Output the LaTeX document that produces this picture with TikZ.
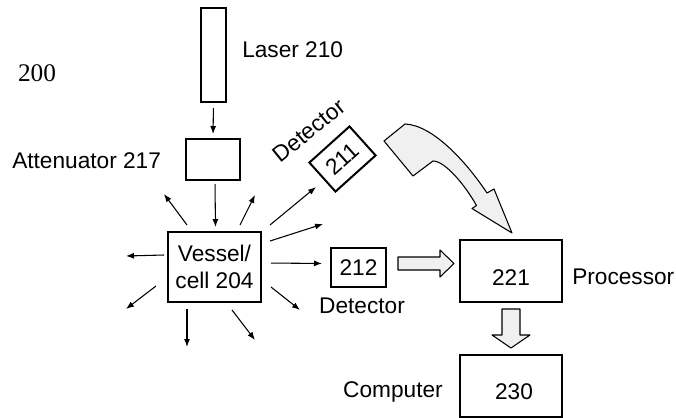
\documentclass[tikz,border=0pt]{standalone}
\usepackage{fontspec}
\setmainfont{Liberation Sans}
\newfontfamily\serifnum{Liberation Serif}
\usetikzlibrary{arrows.meta}
\tikzset{
  box/.style={draw, line width=1.5pt, inner sep=0pt, font=\fontsize{17}{20}\selectfont},
  lbl/.style={inner sep=0pt, font=\fontsize{17}{20}\selectfont},
  arr/.style={line width=0.8pt, -{Latex[length=6pt,width=4.5pt]}},
  blockarrow/.style={draw, line width=0.8pt, line join=round, fill=black!6}
}
\begin{document}
\begin{tikzpicture}[x=0.75pt,y=-0.75pt]
\useasboundingbox (0,0) rectangle (676,418);
% label 200
\node[inner sep=0pt, font=\serifnum\fontsize{19}{20}\selectfont] (fig) at (37,73) {200};
% boxes
\node[box, minimum width=18.75pt, minimum height=70.5pt] (laser) at (213.5,55) {};
\node[lbl, anchor=west] (laserl) at (242,50) {Laser 210};
\node[box, minimum width=40.5pt, minimum height=30.75pt] (att) at (213,159.5) {};
\node[lbl, anchor=west] (attl) at (12,161) {Attenuator 217};
\node[box, minimum width=69.75pt, minimum height=52.5pt, align=center] (vessel) at (214.5,267) {Vessel/\\cell 204};
\node[box, minimum width=41.25pt, minimum height=29.25pt] (det212) at (358.5,267.5) {212};
\node[lbl] (det212l) at (362,306) {Detector};
\node[box, minimum width=40.5pt, minimum height=29.25pt, rotate=42] (det211) at (342.5,159) {211};
\node[lbl, rotate=39] (det211l) at (309,131) {Detector};
\node[box, minimum width=76.5pt, minimum height=46.5pt] (proc) at (511,271) {};
\node[lbl] (proct) at (511,278) {221};
\node[lbl, anchor=west] (procl) at (572,277) {Processor};
\node[box, minimum width=76.5pt, minimum height=46.5pt] (comp) at (511,386) {};
\node[lbl] (compt) at (514,392) {230};
\node[lbl, anchor=east] (compl) at (443,392) {Computer};
% connectors
\draw[arr, shorten <=3.75pt, shorten >=3pt] (laser.south) -- (att.north);
\draw[arr, shorten <=2.25pt, shorten >=3pt] ([xshift=1.5pt]att.south) -- ([xshift=0.75pt]vessel.north);
\draw[arr, shorten <=6.75pt, shorten >=6pt] ([yshift=3pt]vessel.east) -- ([yshift=3pt]det212.west);
% radiating arrows
\foreach \i/\sx/\sy/\ex/\ey in {1/187/225/164/194, 2/240/225/255/195, 3/270/225/316/187, 4/270/241/323/224, 6/271/287/300/310, 7/232/310/255/340, 8/187/309/187/347, 9/156/286/126/309, 10/164/255/126/256}{
  \coordinate (rs\i) at (\sx,\sy);
  \coordinate (re\i) at (\ex,\ey);
  \draw[arr] (rs\i) -- (re\i);
}
% block arrows
\draw[blockarrow] (398,257) -- (440,257) -- (440,250) -- (454,263.5) -- (440,277) -- (440,270) -- (398,270) -- cycle;
\draw[blockarrow] (502,309) -- (520,309) -- (520,335) -- (530,335) -- (511,348) -- (492,335) -- (502,335) -- cycle;
\draw[blockarrow] (405,124) .. controls (432,125) and (465,160) .. (487,193) -- (494,189) -- (512,233) -- (472,208.5) -- (476.5,205.5) .. controls (465,185) and (445,161) .. (433,161) -- (413,176) -- (384,141) -- cycle;
\end{tikzpicture}
\end{document}
